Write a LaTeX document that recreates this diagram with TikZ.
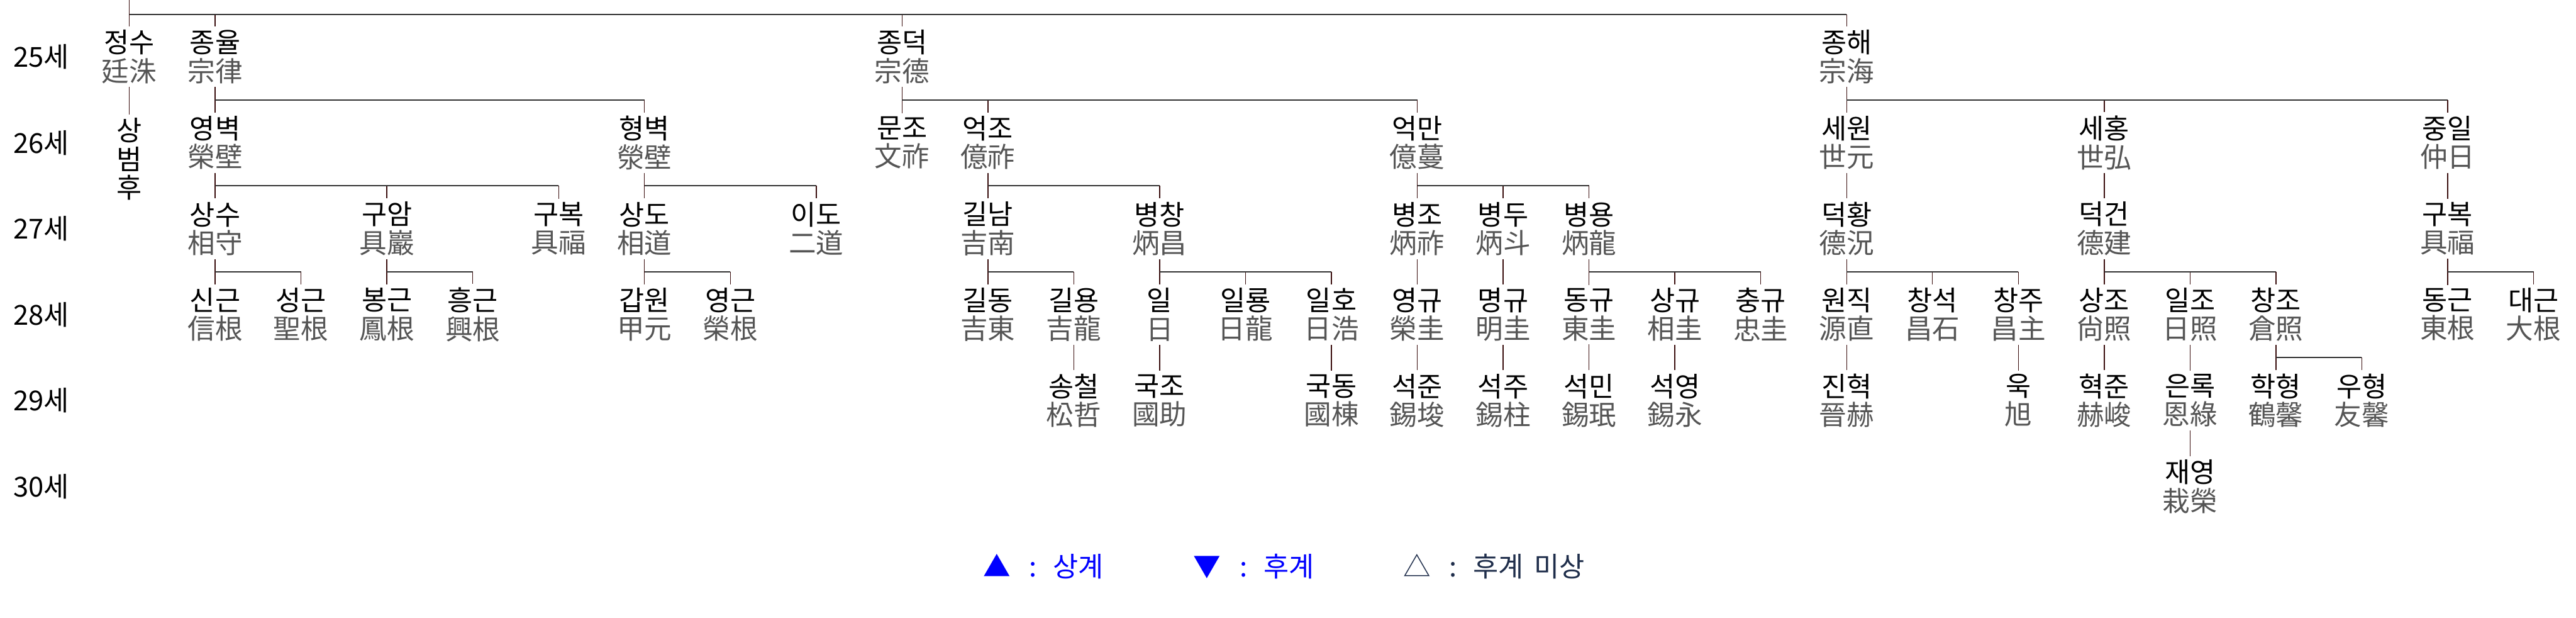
\documentclass[tikz,border=0pt]{standalone}
\usepackage{fontspec}
\usepackage{xcolor}
\usepackage{tikz}
\usetikzlibrary{positioning,calc}
\newfontfamily\krfont{Noto Sans CJK KR}
\definecolor{jbhanja}{HTML}{555555}
\definecolor{jbstemc}{HTML}{3A0E0E}
\definecolor{jbbarc}{HTML}{333333}
\definecolor{jbblue}{HTML}{0000FF}
\definecolor{jbnavy}{HTML}{1E2D4A}
\tikzset{
  jbname/.style={
    align=center, inner xsep=0pt, inner ysep=0.5mm,
    font=\krfont\fontsize{12.5}{13}\selectfont
  },
  jbgen/.style={inner sep=0pt, font=\krfont\fontsize{12.5}{13}\selectfont},
  jbstem/.style={draw=jbstemc, line width=0.4pt},
  jbbar/.style={draw=jbbarc, line width=0.6pt},
  jblegend/.style={anchor=west, inner sep=0pt, font=\krfont\fontsize{12.5}{13}\selectfont}
}
\newcommand{\hj}[1]{\textcolor{jbhanja}{#1}}
\newcommand{\lgsep}{\hspace*{3mm}:\hspace*{2.6mm}}
% parent -> children: stem, bar, stems
\newcommand{\jbkin}[2]{%
  \coordinate (kb) at ($(#1)+(0,0.5)$);
  \draw[jbstem] (#1.south) -- (kb);
  \foreach \c in {#2}{%
    \draw[jbbar] (kb) -- (\c |- kb);
    \draw[jbstem] (\c |- kb) -- (\c.north);
  }%
}

\begin{document}
\begin{tikzpicture}
  \useasboundingbox (0,0) rectangle (41.25,-9.88);
  \begin{scope}[shift={(2.07cm,-0.91cm)}, x=1.375cm, y=-1.375cm]
  % generations
  \foreach \g [count=\r from 0] in {25,...,30}
    \node[jbgen] (gen\g) at (-1.025,\r) {\g{}세};

  % 25
  \node[jbname] (jeongsu)  at (0,0)  {정수\\\hj{廷洙}};
  \node[jbname] (jongyul)  at (1,0)  {종율\\\hj{宗律}};
  \node[jbname] (jongdeok) at (9,0)  {종덕\\\hj{宗德}};
  \node[jbname] (jonghae)  at (20,0) {종해\\\hj{宗海}};

  % 26
  \node[jbname, below=4.4mm of jeongsu] (sangbeom) {상\\범\\후};
  \node[jbname] (yeongbyeok)  at (1,1)  {영벽\\\hj{榮壁}};
  \node[jbname] (hyeongbyeok) at (6,1)  {형벽\\\hj{滎壁}};
  \node[jbname] (munjo)       at (9,1)  {문조\\\hj{文祚}};
  \node[jbname] (eokjo)       at (10,1) {억조\\\hj{億祚}};
  \node[jbname] (eokman)      at (15,1) {억만\\\hj{億蔓}};
  \node[jbname] (sewon)       at (20,1) {세원\\\hj{世元}};
  \node[jbname] (sehong)      at (23,1) {세홍\\\hj{世弘}};
  \node[jbname] (jungil)      at (27,1) {중일\\\hj{仲日}};

  % 27
  \node[jbname] (sangsu)      at (1,2)  {상수\\\hj{相守}};
  \node[jbname] (guam)        at (3,2)  {구암\\\hj{具巖}};
  \node[jbname] (gubok)       at (5,2)  {구복\\\hj{具福}};
  \node[jbname] (sangdo)      at (6,2)  {상도\\\hj{相道}};
  \node[jbname] (ido)         at (8,2)  {이도\\\hj{二道}};
  \node[jbname] (gilnam)      at (10,2) {길남\\\hj{吉南}};
  \node[jbname] (byeongchang) at (12,2) {병창\\\hj{炳昌}};
  \node[jbname] (byeongjo)    at (15,2) {병조\\\hj{炳祚}};
  \node[jbname] (byeongdu)    at (16,2) {병두\\\hj{炳斗}};
  \node[jbname] (byeongyong)  at (17,2) {병용\\\hj{炳龍}};
  \node[jbname] (deokhwang)   at (20,2) {덕황\\\hj{德況}};
  \node[jbname] (deokgeon)    at (23,2) {덕건\\\hj{德建}};
  \node[jbname] (gubok2)      at (27,2) {구복\\\hj{具福}};

  % 28
  \node[jbname] (singeun)    at (1,3)  {신근\\\hj{信根}};
  \node[jbname] (seonggeun)  at (2,3)  {성근\\\hj{聖根}};
  \node[jbname] (bonggeun)   at (3,3)  {봉근\\\hj{鳳根}};
  \node[jbname] (heunggeun)  at (4,3)  {흥근\\\hj{興根}};
  \node[jbname] (gabwon)     at (6,3)  {갑원\\\hj{甲元}};
  \node[jbname] (yeonggeun)  at (7,3)  {영근\\\hj{榮根}};
  \node[jbname] (gildong)    at (10,3) {길동\\\hj{吉東}};
  \node[jbname] (gilyong)    at (11,3) {길용\\\hj{吉龍}};
  \node[jbname] (il)         at (12,3) {일\\\hj{日}};
  \node[jbname] (illyong)    at (13,3) {일룡\\\hj{日龍}};
  \node[jbname] (ilho)       at (14,3) {일호\\\hj{日浩}};
  \node[jbname] (yeonggyu)   at (15,3) {영규\\\hj{榮圭}};
  \node[jbname] (myeonggyu)  at (16,3) {명규\\\hj{明圭}};
  \node[jbname] (donggyu)    at (17,3) {동규\\\hj{東圭}};
  \node[jbname] (sanggyu)    at (18,3) {상규\\\hj{相圭}};
  \node[jbname] (chunggyu)   at (19,3) {충규\\\hj{忠圭}};
  \node[jbname] (wonjik)     at (20,3) {원직\\\hj{源直}};
  \node[jbname] (changseok)  at (21,3) {창석\\\hj{昌石}};
  \node[jbname] (changju)    at (22,3) {창주\\\hj{昌主}};
  \node[jbname] (sangjo)     at (23,3) {상조\\\hj{尙照}};
  \node[jbname] (iljo)       at (24,3) {일조\\\hj{日照}};
  \node[jbname] (changjo)    at (25,3) {창조\\\hj{倉照}};
  \node[jbname] (donggeun)   at (27,3) {동근\\\hj{東根}};
  \node[jbname] (daegeun)    at (28,3) {대근\\\hj{大根}};

  % 29
  \node[jbname] (songcheol)  at (11,4) {송철\\\hj{松哲}};
  \node[jbname] (gukjo)      at (12,4) {국조\\\hj{國助}};
  \node[jbname] (gukdong)    at (14,4) {국동\\\hj{國棟}};
  \node[jbname] (seokjun)    at (15,4) {석준\\\hj{錫埈}};
  \node[jbname] (seokju)     at (16,4) {석주\\\hj{錫柱}};
  \node[jbname] (seokmin)    at (17,4) {석민\\\hj{錫珉}};
  \node[jbname] (seokyeong)  at (18,4) {석영\\\hj{錫永}};
  \node[jbname] (jinhyeok)   at (20,4) {진혁\\\hj{晉赫}};
  \node[jbname] (uk)         at (22,4) {욱\\\hj{旭}};
  \node[jbname] (hyeokjun)   at (23,4) {혁준\\\hj{赫峻}};
  \node[jbname] (eunrok)     at (24,4) {은록\\\hj{恩綠}};
  \node[jbname] (hakhyeong)  at (25,4) {학형\\\hj{鶴馨}};
  \node[jbname] (uhyeong)    at (26,4) {우형\\\hj{友馨}};

  % 30
  \node[jbname] (jaeyeong)   at (24,5) {재영\\\hj{栽榮}};

  % top line
  \coordinate (root) at (0,-0.662);
  \coordinate (topbar) at (0,-0.495);
  \draw[jbstem] (root) -- (jeongsu.north);
  \foreach \c in {jongyul,jongdeok,jonghae}{
    \draw[jbbar] (topbar) -- (\c |- topbar);
    \draw[jbstem] (\c |- topbar) -- (\c.north);
  }

  \draw[jbstem] (jeongsu) -- (sangbeom);
  \jbkin{jongyul}{yeongbyeok,hyeongbyeok}
  \jbkin{jongdeok}{munjo,eokjo,eokman}
  \jbkin{jonghae}{sewon,sehong,jungil}

  \jbkin{yeongbyeok}{sangsu,guam,gubok}
  \jbkin{hyeongbyeok}{sangdo,ido}
  \jbkin{eokjo}{gilnam,byeongchang}
  \jbkin{eokman}{byeongjo,byeongdu,byeongyong}
  \jbkin{sewon}{deokhwang}
  \jbkin{sehong}{deokgeon}
  \jbkin{jungil}{gubok2}

  \jbkin{sangsu}{singeun,seonggeun}
  \jbkin{guam}{bonggeun,heunggeun}
  \jbkin{sangdo}{gabwon,yeonggeun}
  \jbkin{gilnam}{gildong,gilyong}
  \jbkin{byeongchang}{il,illyong,ilho}
  \jbkin{byeongjo}{yeonggyu}
  \jbkin{byeongdu}{myeonggyu}
  \jbkin{byeongyong}{donggyu,sanggyu,chunggyu}
  \jbkin{deokhwang}{wonjik,changseok,changju}
  \jbkin{deokgeon}{sangjo,iljo,changjo}
  \jbkin{gubok2}{donggeun,daegeun}

  \jbkin{gilyong}{songcheol}
  \jbkin{il}{gukjo}
  \jbkin{ilho}{gukdong}
  \jbkin{yeonggyu}{seokjun}
  \jbkin{myeonggyu}{seokju}
  \jbkin{donggyu}{seokmin}
  \jbkin{sanggyu}{seokyeong}
  \jbkin{wonjik}{jinhyeok}
  \jbkin{changju}{uk}
  \jbkin{sangjo}{hyeokjun}
  \jbkin{iljo}{eunrok}
  \jbkin{changjo}{hakhyeong,uhyeong}

  \jbkin{eunrok}{jaeyeong}

  % legend
  \node[jblegend, text=jbblue] (lgup)   at (9.94,5.93)  {▲\lgsep 상계};
  \node[jblegend, text=jbblue] (lgdown) at (12.39,5.93) {▼\lgsep 후계};
  \node[jblegend, text=jbnavy] (lgnone) at (14.83,5.93) {△\lgsep 후계\hspace*{1.7mm}미상};
  \end{scope}
\end{tikzpicture}
\end{document}
